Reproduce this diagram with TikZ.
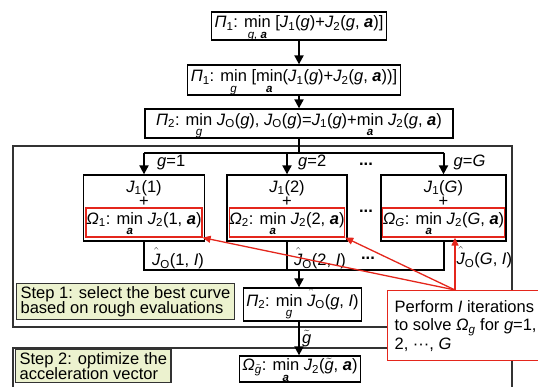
\documentclass[tikz,border=0pt]{standalone}
\usepackage{amsmath}
\usepackage{fontspec}
\setmainfont{Liberation Sans}
\usetikzlibrary{positioning,arrows.meta,calc}

\definecolor{callred}{RGB}{228,38,28}
\definecolor{stepfill}{RGB}{236,242,207}
\newcommand{\vr}[1]{\textit{#1}}
\newcommand{\bfa}{\textbf{\textit{a}}}
\newcommand{\sbs}[1]{\textsubscript{#1}}
\newcommand{\mn}[1]{$\underset{\text{\itshape #1}}{\text{min}}$}
\newcommand{\jhat}{$\hat{\text{\itshape J}\rule{0pt}{13.5pt}}$\sbs{O}}
\newcommand{\gtil}{$\tilde{\text{\itshape g}}$}

\begin{document}
\begin{tikzpicture}[x=1pt, y=-1pt,
  every node/.style={font=\fontsize{16.5}{18}\selectfont, inner sep=0pt},
  prob/.style={draw, line width=1.3pt, inner xsep=3pt, text height=12.5pt, text depth=9pt},
  sub/.style={draw, line width=1.3pt},
  omega/.style={draw=callred, line width=1.2pt, text height=12.5pt, text depth=9pt},
  stepnote/.style={draw=black!80, line width=1.2pt, fill=stepfill, align=left,
    inner xsep=4pt, inner ysep=2.5pt, font=\fontsize{16.5}{15.5}\selectfont},
  call/.style={draw=callred, line width=1.3pt, fill=white, align=left,
    inner xsep=7pt, font=\fontsize{16.5}{18.5}\selectfont},
  flow/.style={line width=2pt},
  arr/.style={flow, -{Triangle[length=9pt,width=9pt]}},
  redarr/.style={callred, line width=1.3pt, -{Triangle[length=8pt,width=7pt]}},
  outerframe/.style={black!80, line width=1.3pt}
]
\useasboundingbox (0,0) rectangle (538,387);
\draw[outerframe] (13,146) rectangle (512,327);
\draw[outerframe] (13,392) |- (512,348) -- (512,392);

\node[prob, minimum width=169, minimum height=28] (p1) at (299,26)
  {\vr{Π}\sbs{1}: \mn{g, \bfseries a} [\vr{J}\sbs{1}(\vr{g})+\vr{J}\sbs{2}(\vr{g}, \bfa)]};
\node[prob, minimum width=208, minimum height=30] (p1b) at (294,80)
  {\vr{Π}\sbs{1}: \mn{g} [\mn{\bfseries a}(\vr{J}\sbs{1}(\vr{g})+\vr{J}\sbs{2}(\vr{g}, \bfa))]};
\node[prob, minimum width=308, minimum height=29] (p2) at (299,123.5)
  {\vr{Π}\sbs{2}: \mn{g} \vr{J}\sbs{O}(\vr{g}), \vr{J}\sbs{O}(\vr{g})=\vr{J}\sbs{1}(\vr{g})+\mn{\bfseries a} \vr{J}\sbs{2}(\vr{g}, \bfa)};

\node[sub, minimum width=121, minimum height=66] (b1) at (144,208) {};
\node[anchor=base] (j1) at ($(b1.north)+(0,18)$) {\vr{J}\sbs{1}(1)};
\node (pl1) at ($(b1.north)+(0,27)$) {+};
\node[omega, minimum width=116, minimum height=29, above=4pt of b1.south] (o1)
  {\vr{Ω}\sbs{1}: \mn{\bfseries a} \vr{J}\sbs{2}(1, \bfa)};

\node[sub, minimum width=120, minimum height=66] (b2) at (287,208) {};
\node[anchor=base] (j2) at ($(b2.north)+(0,18)$) {\vr{J}\sbs{1}(2)};
\node (pl2) at ($(b2.north)+(0,27)$) {+};
\node[omega, minimum width=115, minimum height=29, above=4pt of b2.south] (o2)
  {\vr{Ω}\sbs{2}: \mn{\bfseries a} \vr{J}\sbs{2}(2, \bfa)};

\node[sub, minimum width=125, minimum height=66] (bG) at (443.5,208) {};
\node[anchor=base] (jG) at ($(bG.north)+(0,18)$) {\vr{J}\sbs{1}(\vr{G})};
\node (plG) at ($(bG.north)+(0,27)$) {+};
\node[omega, minimum width=118, minimum height=29, above=4pt of bG.south] (oG)
  {\vr{Ω}\sbs{\vr{G}}: \mn{\bfseries a} \vr{J}\sbs{2}(\vr{G}, \bfa)};

\node (dt1) at (366,164) {\textbf{...}};
\node (dt2) at (366,211) {\textbf{...}};
\node (dt3) at (368,258) {\textbf{...}};

\draw[arr] (p1.south) -- (p1.south |- p1b.north);
\draw[arr] (p1b.south -| p1.south) -- (p2.north -| p1.south);
\draw[flow] (p2.south) -- ++(0,14) coordinate (hub);
\draw[flow] (hub -| b1.north) -- (hub -| bG.north);
\draw[arr] (hub -| b1.north) -- (b1.north);
\draw[arr] (hub -| b2.north) -- (b2.north);
\draw[arr] (hub -| bG.north) -- (bG.north);
\node[anchor=west] (g1) at ($(hub -| b1.north)+(13,10)$) {\vr{g}=1};
\node[anchor=west] (g2) at ($(hub -| b2.north)+(11,10)$) {\vr{g}=2};
\node[anchor=west] (gG) at ($(hub -| bG.north)+(10,10)$) {\vr{g}=\vr{G}};

\coordinate (col) at ($(p2.south)+(0,131)$);
\draw[flow] (b1.south) -- (b1.south |- col) -- (bG.south |- col) -- (bG.south);
\draw[flow] (b2.south) -- (b2.south |- col);
\node[anchor=base west] (h1) at ($(b1.south |- col)+(8,-4)$) {\jhat(1, \vr{I})};
\node[anchor=base west] (h2) at ($(b2.south |- col)+(7,-4)$) {\jhat(2, \vr{I})};
\node[anchor=base west] (hG) at ($(bG.south)+(13,23)$) {\jhat(\vr{G}, \vr{I})};

\node[prob, minimum width=115, minimum height=33] (p3) at (302.5,304.5)
  {\vr{Π}\sbs{2}: \mn{g} \jhat(\vr{g}, \vr{I})};
\node[prob, minimum width=116, minimum height=26] (og) at (300,369)
  {\vr{Ω}\sbs{\gtil}: \mn{\bfseries a} \vr{J}\sbs{2}(\gtil, \bfa)};
\draw[arr] (col) -- (col |- p3.north);
\draw[arr] (col |- p3.south) -- (col |- og.north);
\node[anchor=west] (gt) at ($(col |- p3.south)+(3,17)$) {\gtil};

\node[stepnote, anchor=north west] (s1) at (16,283) {Step 1: select the best curve\\based on rough evaluations};
\node[stepnote, anchor=north west] (s2) at (15,349) {Step 2: optimize the\\acceleration vector};

\node[call, anchor=north west, minimum width=152, minimum height=70] (note) at (387,290)
  {Perform \vr{I} iterations\\to solve \vr{Ω}\sbs{\vr{g}} for \vr{g}=1,\\2, ···, \vr{G}};
\coordinate (cv) at ($(note.north west)+(68,0)$);
\draw[redarr] (cv) -- (o1.south east);
\draw[redarr] (cv) -- (o2.south east);
\draw[redarr] (cv) -- (cv |- oG.south);
\end{tikzpicture}
\end{document}
